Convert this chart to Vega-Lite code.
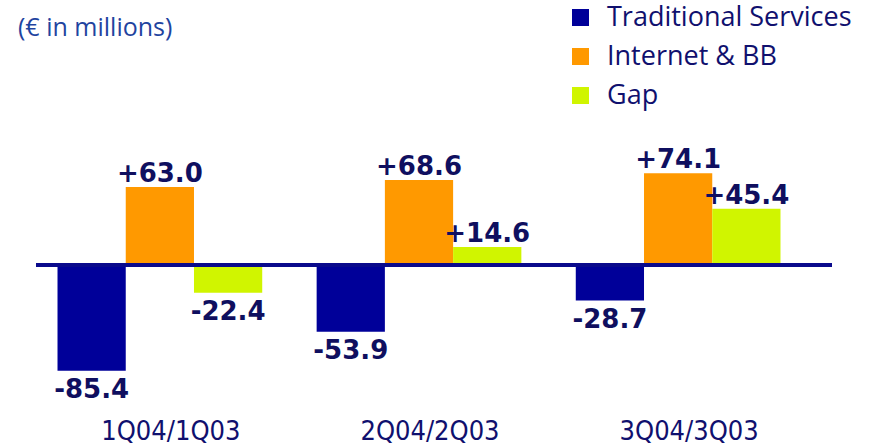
{
  "$schema": "https://vega.github.io/schema/vega-lite/v6.json",
  "width": 796,
  "height": 300,
  "autosize": "none",
  "padding": {"left": 36, "top": 100, "right": 46, "bottom": 45},
  "background": "white",
  "title": {
    "text": "(€ in millions)",
    "anchor": "start",
    "frame": "group",
    "orient": "top",
    "font": "Open Sans",
    "fontSize": 25,
    "fontWeight": "normal",
    "color": "#1f449f",
    "baseline": "middle",
    "offset": -49,
    "dx": -18
  },
  "config": {"view": {"stroke": null}},
  "data": {
    "values": [
      {"period": "1Q04/1Q03", "series": "Traditional Services", "value": -85.4, "label": "-85.4"},
      {"period": "1Q04/1Q03", "series": "Internet & BB", "value": 63.0, "label": "+63.0"},
      {"period": "1Q04/1Q03", "series": "Gap", "value": -22.4, "label": "-22.4"},
      {"period": "2Q04/2Q03", "series": "Traditional Services", "value": -53.9, "label": "-53.9"},
      {"period": "2Q04/2Q03", "series": "Internet & BB", "value": 68.6, "label": "+68.6"},
      {"period": "2Q04/2Q03", "series": "Gap", "value": 14.6, "label": "+14.6"},
      {"period": "3Q04/3Q03", "series": "Traditional Services", "value": -28.7, "label": "-28.7"},
      {"period": "3Q04/3Q03", "series": "Internet & BB", "value": 74.1, "label": "+74.1"},
      {"period": "3Q04/3Q03", "series": "Gap", "value": 45.4, "label": "+45.4"}
    ]
  },
  "encoding": {
    "x": {
      "field": "period",
      "type": "nominal",
      "sort": ["1Q04/1Q03", "2Q04/2Q03", "3Q04/3Q03"],
      "scale": {"paddingInner": 0.21, "paddingOuter": 0.083, "range": [0, 766]},
      "axis": {
        "title": null,
        "domain": false,
        "ticks": false,
        "labelAngle": 0,
        "labelFont": "DejaVu Sans Condensed, sans-serif",
        "labelFontSize": 27,
        "labelColor": "#10106e",
        "labelPadding": 18,
        "labelOffset": 11
      }
    },
    "xOffset": {
      "field": "series",
      "type": "nominal",
      "sort": ["Traditional Services", "Internet & BB", "Gap"],
      "scale": {"paddingInner": 0, "paddingOuter": 0}
    },
    "y": {
      "field": "value",
      "type": "quantitative",
      "scale": {"domain": [-109.05, 133.27], "nice": false, "zero": false},
      "axis": null
    }
  },
  "layer": [
    {
      "mark": {"type": "bar"},
      "encoding": {
        "color": {
          "field": "series",
          "type": "nominal",
          "sort": ["Traditional Services", "Internet & BB", "Gap"],
          "scale": {
            "domain": ["Traditional Services", "Internet & BB", "Gap"],
            "range": ["#000099", "#ff9900", "#d0f500"]
          },
          "legend": {
            "title": null,
            "orient": "none",
            "legendX": 531,
            "legendY": -96,
            "padding": 0,
            "symbolType": "square",
            "symbolSize": 289,
            "symbolStrokeWidth": 0,
            "symbolOpacity": 1,
            "labelFont": "Open Sans",
            "labelFontSize": 27,
            "labelColor": "#10106e",
            "labelOffset": 13,
            "rowPadding": 11,
            "labelLimit": 400
          }
        }
      }
    },
    {
      "transform": [{"filter": "datum.value > 0"}],
      "mark": {
        "type": "text",
        "baseline": "alphabetic",
        "dy": -5,
        "font": "DejaVu Sans",
        "fontWeight": "bold",
        "fontSize": 26,
        "color": "#0f0f5f"
      },
      "encoding": {"text": {"field": "label"}}
    },
    {
      "transform": [{"filter": "datum.value < 0"}],
      "mark": {
        "type": "text",
        "baseline": "top",
        "dy": 6,
        "font": "DejaVu Sans",
        "fontWeight": "bold",
        "fontSize": 26,
        "color": "#0f0f5f"
      },
      "encoding": {"text": {"field": "label"}}
    },
    {
      "mark": {"type": "rule", "color": "#0a0a8c", "strokeWidth": 4},
      "encoding": {"y": {"datum": 0}, "x": null, "xOffset": null}
    }
  ]
}
